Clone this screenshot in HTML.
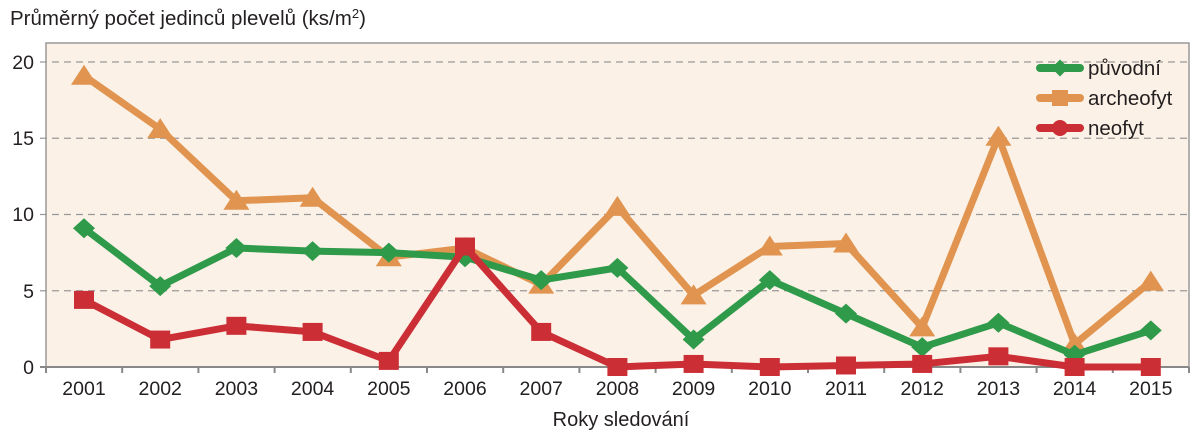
<!DOCTYPE html>
<html><head><meta charset="utf-8"><style>
body{margin:0;background:#fff;}
svg text{font-family:"Liberation Sans","DejaVu Sans",sans-serif;fill:#231f20;}
</style></head><body>
<svg width="1200" height="439" viewBox="0 0 1200 439" xmlns="http://www.w3.org/2000/svg">
<text x="10" y="25" font-size="20.5">Průměrný počet jedinců plevelů (ks/m<tspan font-size="13" dy="-7">2</tspan><tspan dy="7">)</tspan></text>
<rect x="46" y="43" width="1143" height="324" fill="#fbf1e6" stroke="#999" stroke-width="1.5"/>
<g stroke="#999" stroke-width="1.2" stroke-dasharray="7,5">
<line x1="40" y1="62" x2="1189" y2="62"/><line x1="40" y1="138.25" x2="1189" y2="138.25"/>
<line x1="40" y1="214.5" x2="1189" y2="214.5"/><line x1="40" y1="290.75" x2="1189" y2="290.75"/>
</g>
<line x1="40" y1="367" x2="1189" y2="367" stroke="#888" stroke-width="2"/>
<g font-size="19.5" text-anchor="end">
<text x="34" y="69">20</text><text x="34" y="145">15</text><text x="34" y="221">10</text><text x="34" y="298">5</text><text x="34" y="374">0</text>
</g>
<g id="ticks" stroke="#888" stroke-width="2"></g>
<g id="xl" font-size="19.5" text-anchor="middle"></g>
<text x="621" y="426" font-size="20" text-anchor="middle">Roky sledování</text>
<g id="series"></g>
<g font-size="20.5">
<line x1="1040" y1="68" x2="1080" y2="68" stroke="#2e9a4a" stroke-width="8" stroke-linecap="round"/>
<rect x="1054" y="62" width="12" height="12" fill="#2e9a4a" transform="rotate(45 1060 68)"/>
<text x="1088" y="75">původní</text>
<line x1="1040" y1="98" x2="1080" y2="98" stroke="#e0944f" stroke-width="8" stroke-linecap="round"/>
<rect x="1052" y="90" width="16" height="16" fill="#e0944f"/>
<text x="1088" y="105">archeofyt</text>
<line x1="1040" y1="128" x2="1080" y2="128" stroke="#cc2e36" stroke-width="8" stroke-linecap="round"/>
<circle cx="1060" cy="128" r="8" fill="#cc2e36"/>
<text x="1088" y="135">neofyt</text>
</g>
</svg>
<script>
const ns="http://www.w3.org/2000/svg";
const X=i=>84+76.2*i, Y=v=>367-15.25*v;
const t=document.getElementById("ticks"),xl=document.getElementById("xl"),s=document.getElementById("series");
for(let i=0;i<=15;i++){const l=document.createElementNS(ns,"line");const x=46+76.2*i;l.setAttribute("x1",x);l.setAttribute("x2",x);l.setAttribute("y1",367);l.setAttribute("y2",373);t.appendChild(l);}
for(let i=0;i<15;i++){const e=document.createElementNS(ns,"text");e.setAttribute("x",X(i));e.setAttribute("y",395);e.textContent=2001+i;xl.appendChild(e);}
const data=[
["#cc2e36","sq",[4.4,1.8,2.7,2.3,0.4,7.9,2.3,0.0,0.2,0.0,0.1,0.2,0.7,0.0,0.0]],
["#2e9a4a","di",[9.1,5.3,7.8,7.6,7.5,7.2,5.7,6.5,1.8,5.7,3.5,1.3,2.9,0.8,2.4]],
["#e0944f","tr",[19.1,15.6,10.9,11.1,7.2,7.8,5.4,10.5,4.7,7.9,8.1,2.6,15.1,1.5,5.6]]];
const order=[2,1,0];
for(const k of order){const [c,m,d]=data[k];
const p=document.createElementNS(ns,"polyline");p.setAttribute("points",d.map((v,i)=>X(i)+","+Y(v)).join(" "));
p.setAttribute("fill","none");p.setAttribute("stroke",c);p.setAttribute("stroke-width","7");p.setAttribute("stroke-linejoin","round");s.appendChild(p);
d.forEach((v,i)=>{const x=X(i),y=Y(v);let e;
if(m=="sq"){e=document.createElementNS(ns,"rect");e.setAttribute("x",x-10);e.setAttribute("y",y-9);e.setAttribute("width",20);e.setAttribute("height",18);}
else if(m=="di"){e=document.createElementNS(ns,"polygon");e.setAttribute("points",`${x},${y-10} ${x+11},${y} ${x},${y+10} ${x-11},${y}`);}
else{e=document.createElementNS(ns,"polygon");e.setAttribute("points",`${x},${y-11} ${x+13},${y+9} ${x-13},${y+9}`);}
e.setAttribute("fill",c);s.appendChild(e);});}
</script>
</body></html>
